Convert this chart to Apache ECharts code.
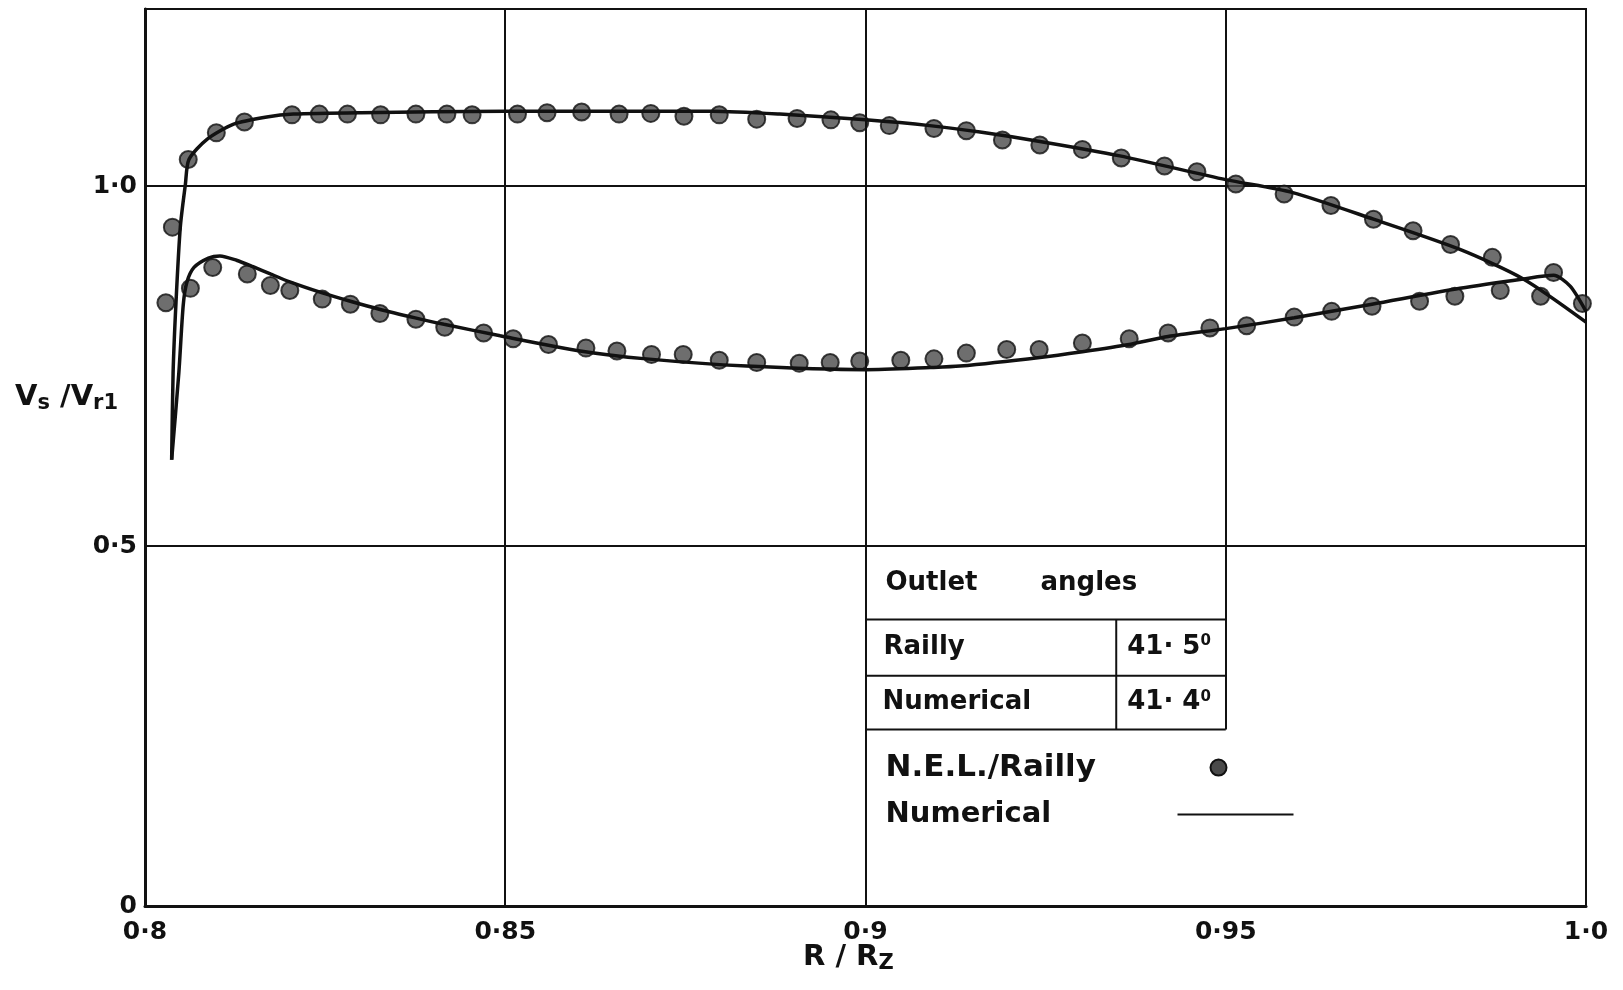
<!DOCTYPE html>
<html>
<head>
<meta charset="utf-8">
<title>Vs/Vr1 - R/Rz</title>
<script src="https://cdn.jsdelivr.net/npm/echarts@6/dist/echarts.min.js"></script>
<style>
html,body{margin:0;padding:0;background:#fff;}
#main{width:1623px;height:990px;}
</style>
</head>
<body>
<div id="main"></div>
<script>
// tick labels
var xTickValues = [0.8, 0.85, 0.9, 0.95, 1.0];
var xTickLabels = ['0·8', '0·85', '0·9', '0·95', '1·0'];
var yTickValues = [0, 0.5, 1.0];
var yTickLabels = ['0', '0·5', '1·0'];

// Numerical solution (solid line), upper and lower branch  [R/Rz, Vs/Vr1]
var upperNumerical = [
    [0.8037,0.620],[0.8039,0.741],[0.8043,0.838],[0.8049,0.943],[0.8056,1.002],
    [0.8061,1.037],[0.8086,1.065],[0.8123,1.086],[0.8169,1.096],[0.8206,1.100],
    [0.830,1.102],[0.850,1.104],[0.8788,1.104],[0.8881,1.100],[0.900,1.092],
    [0.9089,1.084],[0.9159,1.075],[0.9242,1.062],[0.9353,1.042],[0.950,1.009],
    [0.9593,0.991],[0.9705,0.954],[0.9825,0.912],[0.9913,0.871],[1.000,0.811]
];
var lowerNumerical = [
    [0.8037,0.620],[0.8047,0.741],[0.8053,0.834],[0.8058,0.866],[0.8068,0.887],
    [0.8088,0.900],[0.8104,0.903],[0.8127,0.897],[0.8150,0.888],[0.8174,0.878],
    [0.8201,0.867],[0.8245,0.852],[0.8285,0.840],[0.8325,0.829],[0.8375,0.817],
    [0.8415,0.808],[0.8493,0.792],[0.8604,0.771],[0.8696,0.760],[0.8835,0.750],
    [0.900,0.745],[0.9090,0.748],[0.9131,0.750],[0.9242,0.762],[0.9301,0.770],
    [0.9366,0.780],[0.9420,0.791],[0.950,0.802],[0.9595,0.817],[0.9703,0.836],
    [0.9825,0.858],[0.9913,0.871],[0.9955,0.876],[0.9978,0.861],[1.000,0.826]
];

// N.E.L./Railly points
var upperRailly = [
    [0.8029,0.838],[0.8038,0.943],[0.8060,1.037],[0.8099,1.074],[0.8138,1.089],
    [0.8204,1.099],[0.8242,1.100],[0.8281,1.100],[0.8327,1.099],[0.8376,1.100],
    [0.8419,1.100],[0.8454,1.099],[0.8517,1.100],[0.8558,1.102],[0.8606,1.103],
    [0.8658,1.100],[0.8702,1.101],[0.8748,1.097],[0.8797,1.099],[0.8849,1.093],
    [0.8905,1.094],[0.8952,1.092],[0.8992,1.088],[0.9033,1.084],[0.9095,1.080],
    [0.9140,1.077],[0.9190,1.064],[0.9242,1.057],[0.9301,1.051],[0.9355,1.039],
    [0.9415,1.028],[0.9460,1.020],[0.9514,1.003],[0.9581,0.989],[0.9646,0.973],
    [0.9705,0.954],[0.9760,0.938],[0.9812,0.919],[0.9870,0.901],[0.9937,0.847]
];
var lowerRailly = [
    [0.8063,0.858],[0.8094,0.887],[0.8142,0.878],[0.8174,0.862],[0.8201,0.855],
    [0.8246,0.843],[0.8285,0.836],[0.8326,0.823],[0.8376,0.815],[0.8416,0.804],
    [0.8470,0.796],[0.8511,0.788],[0.8560,0.780],[0.8612,0.775],[0.8655,0.771],
    [0.8703,0.766],[0.8747,0.766],[0.8797,0.758],[0.8849,0.755],[0.8908,0.754],
    [0.8951,0.755],[0.8992,0.757],[0.9049,0.758],[0.9095,0.760],[0.9140,0.768],
    [0.9196,0.773],[0.9241,0.773],[0.9301,0.782],[0.9366,0.788],[0.9420,0.796],
    [0.9478,0.803],[0.9529,0.806],[0.9595,0.818],[0.9647,0.826],[0.9703,0.833],
    [0.9769,0.840],[0.9818,0.847],[0.9881,0.855],[0.9955,0.880],[0.9995,0.837]
];

// outlet angles table text
var tableRows = ['Railly', 'Numerical'];
var tableAngles = ['41· 5', '41· 4'];

var FONT = 'DejaVu Sans';
var YMAX = 1.246;
// table edges in axis units
var tableCols = [0.9, 0.9348, 0.95];
var tableLines = [0.5, 0.398, 0.320, 0.245];

function pickLabel(values, labels, v) {
    for (var i = 0; i < values.length; i++) {
        if (Math.abs(values[i] - v) < 1e-6) return labels[i];
    }
    return '';
}

var chart = echarts.init(document.getElementById('main'));

var lineStyle = { color: '#111', width: 3.5 };
var dotStyle = { color: '#4a4a4a', borderColor: '#111', borderWidth: 2 };

var option = {
    animation: false,
    backgroundColor: '#fff',
    grid: {
        left: 145, right: 37, top: 9, bottom: 84,
        show: true, borderColor: '#111', borderWidth: 2
    },
    xAxis: {
        type: 'value',
        min: 0.8, max: 1.0, interval: 0.05,
        axisLine: { show: true, lineStyle: { color: '#111', width: 3 } },
        axisTick: { show: false },
        splitLine: { show: false },
        axisLabel: {
            margin: 14, color: '#111', fontFamily: FONT, fontWeight: 'bold', fontSize: 25,
            formatter: function (v) { return pickLabel(xTickValues, xTickLabels, v); }
        }
    },
    yAxis: {
        type: 'value',
        min: 0, max: YMAX, interval: 0.5,
        axisLine: { show: true, lineStyle: { color: '#111', width: 3 } },
        axisTick: { show: false },
        splitLine: { show: true, lineStyle: { color: '#111', width: 2 } },
        axisLabel: {
            margin: 8, color: '#111', fontFamily: FONT, fontWeight: 'bold', fontSize: 25,
            formatter: function (v) { return pickLabel(yTickValues, yTickLabels, v); }
        }
    },
    series: [
        {
            name: 'N.E.L./Railly', type: 'scatter', data: upperRailly,
            symbol: 'circle', symbolSize: 17, itemStyle: dotStyle, z: 3
        },
        {
            name: 'N.E.L./Railly', type: 'scatter', data: lowerRailly,
            symbol: 'circle', symbolSize: 17, itemStyle: dotStyle, z: 3
        },
        {
            name: 'Numerical', type: 'line', data: upperNumerical,
            showSymbol: false, smooth: 0.25, lineStyle: lineStyle, z: 4,
            markLine: {
                silent: true, symbol: 'none', label: { show: false },
                lineStyle: { color: '#111', width: 2, type: 'solid' },
                data: [
                    { xAxis: 0.85 },
                    { xAxis: 0.9 },
                    [{ coord: [0.95, tableLines[3]] }, { coord: [0.95, YMAX] }]
                ]
            }
        },
        {
            name: 'Numerical', type: 'line', data: lowerNumerical,
            showSymbol: false, smooth: 0.25, lineStyle: lineStyle, z: 4
        }
    ]
};
chart.setOption(option);

// table and legend, placed from the axis scales
function px(x, y) { return chart.convertToPixel({ gridIndex: 0 }, [x, y]); }
var L = px(tableCols[0], 0)[0];
var M = px(tableCols[1], 0)[0];
var R = px(tableCols[2], 0)[0];
var rowY = tableLines.map(function (v) { return px(0.9, v)[1]; });

function hline(x1, x2, y) {
    return { type: 'line', shape: { x1: x1, y1: y, x2: x2, y2: y }, style: { stroke: '#111', lineWidth: 2 }, z: 10 };
}
function text(x, y, str, size, rich) {
    return {
        type: 'text', x: x, y: y, z: 10,
        style: {
            text: str, fill: '#111', font: 'bold ' + size + 'px "' + FONT + '"',
            textVerticalAlign: 'middle', verticalAlign: 'middle', rich: rich
        }
    };
}
var supRich = {
    n: { fontFamily: FONT, fontWeight: 'bold', fontSize: 26, color: '#111' },
    sup: { fontFamily: FONT, fontWeight: 'bold', fontSize: 15, color: '#111', verticalAlign: 'top', padding: [0, 0, 12, 0] }
};
var subRich = {
    n: { fontFamily: FONT, fontWeight: 'bold', fontSize: 29, color: '#111', lineHeight: 34 },
    s: { fontFamily: FONT, fontWeight: 'bold', fontSize: 21, color: '#111', lineHeight: 34, padding: [14, 0, 0, 0] }
};

var graphic = [
    hline(L, R, rowY[1]),
    hline(L, R, rowY[2]),
    hline(L, R, rowY[3]),
    { type: 'line', shape: { x1: M, y1: rowY[1], x2: M, y2: rowY[3] }, style: { stroke: '#111', lineWidth: 2 }, z: 10 },
    text(L + 20, (rowY[0] + rowY[1]) / 2, 'Outlet', 26),
    text(L + 175, (rowY[0] + rowY[1]) / 2, 'angles', 26),
    text(L + 18, (rowY[1] + rowY[2]) / 2, tableRows[0], 26),
    text(L + 17, (rowY[2] + rowY[3]) / 2, tableRows[1], 26),
    text(M + 11, (rowY[1] + rowY[2]) / 2, '{n|' + tableAngles[0] + '}{sup|0}', 26, supRich),
    text(M + 11, (rowY[2] + rowY[3]) / 2, '{n|' + tableAngles[1] + '}{sup|0}', 26, supRich),
    // legend
    text(L + 20, rowY[3] + 38, 'N.E.L./Railly', 31),
    { type: 'circle', shape: { cx: L + 353, cy: rowY[3] + 38, r: 8 }, style: { fill: '#4a4a4a', stroke: '#111', lineWidth: 2 }, z: 10 },
    text(L + 20, rowY[3] + 85, 'Numerical', 29),
    hline(L + 312, L + 428, rowY[3] + 85),
    // axis names
    text(15, 397, '{n|V}{s|s}{n| /V}{s|r1}', 29, subRich),
    text(803, 957, '{n|R / R}{s|Z}', 29, subRich)
];
chart.setOption({ graphic: graphic });
</script>
</body>
</html>
